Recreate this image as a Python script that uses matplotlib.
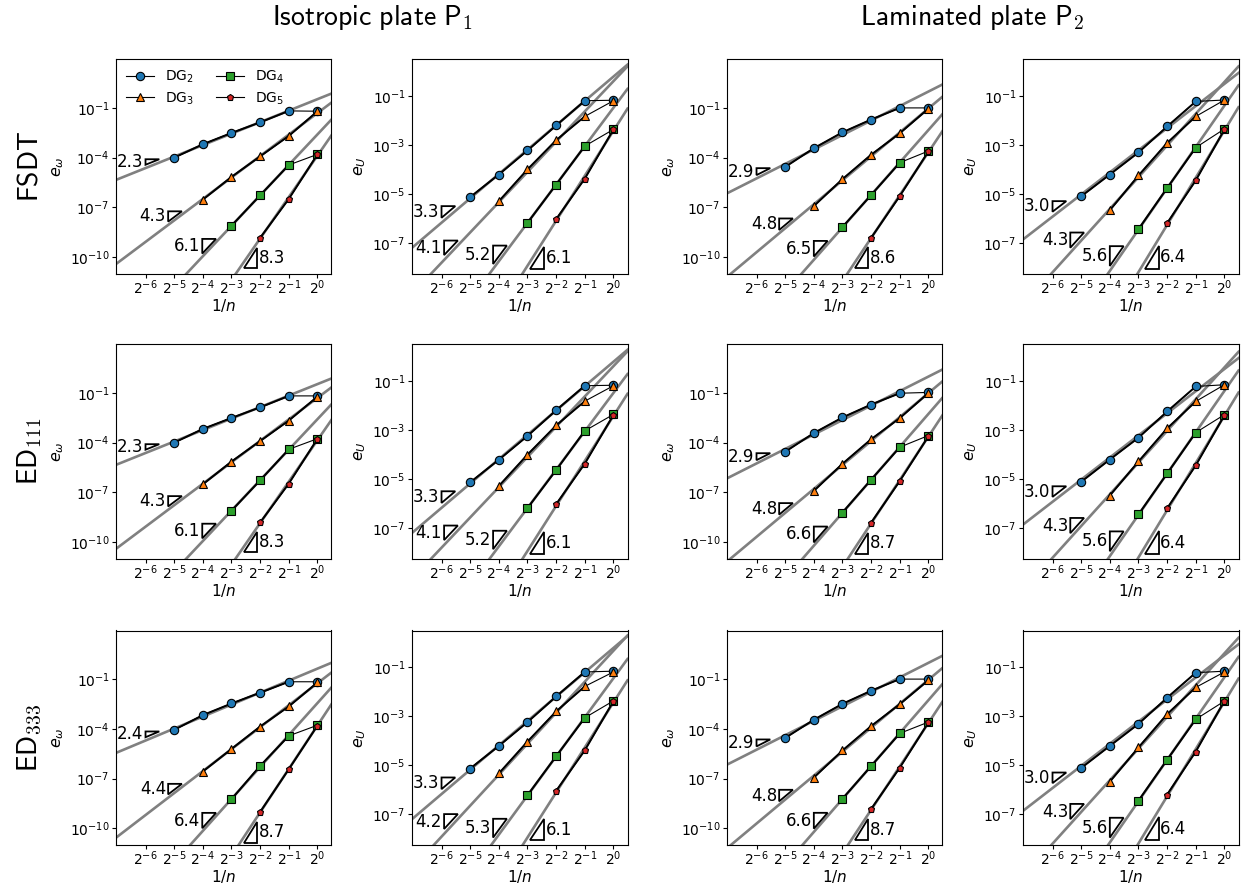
import numpy as np
import matplotlib
matplotlib.use("Agg")
import matplotlib.pyplot as plt
from matplotlib.patches import Polygon
from matplotlib.ticker import FixedLocator, NullLocator, LogFormatterSciNotation
import matplotlib.transforms as mtransforms

# ---------------- data ----------------
n_elements = [32, 16, 8, 4, 2, 1]          # mesh levels, x = 1/n
series_labels = ["DG$_2$", "DG$_3$", "DG$_4$", "DG$_5$"]
row_labels = [r"$\mathsf{FSDT}$", r"$\mathsf{ED}_{\mathsf{111}}$", r"$\mathsf{ED}_{\mathsf{333}}$"]
col_titles = [r"$\mathsf{Isotropic\ plate\ P}_{\mathsf{1}}$", r"$\mathsf{Laminated\ plate\ P}_{\mathsf{2}}$"]
ylabels = [r"$e_\omega$", r"$e_U$", r"$e_\omega$", r"$e_U$"]

# log10 of the errors, per panel, per series (x ascending: finest mesh first)
FSDT_P1_ew = [[-4.00, -3.19, -2.51, -1.87, -1.18, -1.20],
              [-6.53, -5.16, -3.92, -2.69, -1.20],
              [-8.10, -6.27, -4.44, -3.80],
              [-8.83, -6.49, -3.80]]
FSDT_P1_eU = [[-5.12, -4.20, -3.22, -2.20, -1.19, -1.17],
              [-5.29, -3.99, -2.80, -1.83, -1.19],
              [-6.17, -4.61, -3.04, -2.36],
              [-6.02, -4.37, -2.36]]
FSDT_P2_ew = [[-4.56, -3.43, -2.47, -1.70, -1.00, -1.00],
              [-6.92, -5.29, -3.82, -2.53, -1.04],
              [-8.18, -6.25, -4.30, -3.60],
              [-8.83, -6.31, -3.62]]
FSDT_P2_eU = [[-5.09, -4.20, -3.30, -2.24, -1.22, -1.16],
              [-5.66, -4.24, -2.91, -1.83, -1.16],
              [-6.43, -4.75, -3.10, -2.34],
              [-6.18, -4.44, -2.36]]
ED111_P1_ew = [[-4.00, -3.17, -2.51, -1.87, -1.18, -1.18],
               [-6.51, -5.14, -3.90, -2.67, -1.22],
               [-8.10, -6.27, -4.40, -3.76],
               [-8.81, -6.47, -3.76]]
ED111_P1_eU = [[-5.13, -4.21, -3.24, -2.19, -1.19, -1.17],
               [-5.28, -4.00, -2.81, -1.82, -1.19],
               [-6.18, -4.63, -3.03, -2.36],
               [-6.02, -4.37, -2.38]]
ED111_P2_ew = [[-4.55, -3.42, -2.48, -1.70, -1.02, -0.97],
               [-6.91, -5.27, -3.79, -2.52, -1.00],
               [-8.21, -6.23, -4.27, -3.57],
               [-8.82, -6.31, -3.61]]
ED111_P2_eU = [[-5.11, -4.20, -3.31, -2.24, -1.22, -1.15],
               [-5.67, -4.28, -2.93, -1.83, -1.15],
               [-6.44, -4.77, -3.10, -2.37],
               [-6.19, -4.44, -2.39]]
ED333_P1_ew = [[-4.06, -3.17, -2.47, -1.82, -1.16, -1.16],
               [-6.57, -5.21, -3.86, -2.65, -1.20],
               [-8.24, -6.23, -4.42, -3.78],
               [-9.01, -6.43, -3.80]]
ED333_P1_eU = [[-5.13, -4.21, -3.24, -2.19, -1.19, -1.16],
               [-5.33, -4.03, -2.80, -1.78, -1.19],
               [-6.22, -4.63, -3.06, -2.37],
               [-6.04, -4.39, -2.38]]
ED333_P2_ew = [[-4.55, -3.45, -2.49, -1.70, -1.00, -1.00],
               [-6.94, -5.30, -3.83, -2.51, -1.06],
               [-8.21, -6.24, -4.27, -3.59],
               [-8.83, -6.34, -3.61]]
ED333_P2_eU = [[-5.11, -4.21, -3.31, -2.24, -1.22, -1.16],
               [-5.67, -4.27, -2.91, -1.82, -1.19],
               [-6.44, -4.77, -3.12, -2.38],
               [-6.19, -4.44, -2.37]]

# convergence rates shown next to the slope triangles
FSDT_rates = [[2.3, 4.3, 6.1, 8.3], [3.3, 4.1, 5.2, 6.1], [2.9, 4.8, 6.5, 8.6], [3.0, 4.3, 5.6, 6.4]]
ED111_rates = [[2.3, 4.3, 6.1, 8.3], [3.3, 4.1, 5.2, 6.1], [2.9, 4.8, 6.6, 8.7], [3.0, 4.3, 5.6, 6.4]]
ED333_rates = [[2.4, 4.4, 6.4, 8.7], [3.3, 4.2, 5.3, 6.1], [2.9, 4.8, 6.6, 8.7], [3.0, 4.3, 5.6, 6.4]]

# number of coarse (pre-asymptotic) points excluded from the fit, per series
excluded_ew = [1, 0, 1, 0]
excluded_eU = [1, 1, 1, 0]

panels = [[FSDT_P1_ew, FSDT_P1_eU, FSDT_P2_ew, FSDT_P2_eU],
          [ED111_P1_ew, ED111_P1_eU, ED111_P2_ew, ED111_P2_eU],
          [ED333_P1_ew, ED333_P1_eU, ED333_P2_ew, ED333_P2_eU]]
rates = [FSDT_rates, ED111_rates, ED333_rates]

# ---------------- styling / layout ----------------
colors = ["#1f77b4", "#ff7f0e", "#2ca02c", "#d62728"]
markers = ["o", "^", "s", "p"]
msizes = [6.0, 6.0, 5.5, 5.0]
# triangle anchor (log2 of left x) per column
tri_x = [[-6.0, -5.21, -4.02, -2.58],
         [-6.0, -5.91, -4.20, -2.90],
         [-6.0, -5.21, -4.00, -2.58],
         [-6.0, -5.38, -4.00, -2.77]]

W, H = 1244, 888
fig = plt.figure(figsize=(W / 100, H / 100), dpi=100)

col_left = [116, 412, 727, 1023]
row_top = [59.3, 344.3, 630.5]
ax_w, ax_h = 215.5, 214.5

xlim = (2 ** -7.03, 2 ** 0.49)
ylims = [(10 ** -11.0, 10 ** 1.93), (10 ** -8.25, 10 ** 0.5)]
yticks = [[1e-1, 1e-4, 1e-7, 1e-10], [1e-1, 1e-3, 1e-5, 1e-7]]

x_all = 1.0 / np.array(n_elements, dtype=float)
tri_w = 0.48


def add_triangle(ax, xl2, s, a, kind, label):
    x0, x1 = 2 ** xl2, 2 ** (xl2 + tri_w)
    yl = lambda x: 10 ** (a + s * np.log10(x))
    if kind == "upper":
        f = 10 ** 0.2
        pts = [(x0, yl(x0) * f), (x1, yl(x1) * f), (x0, yl(x1) * f)]
        ym = np.sqrt(yl(x0) * yl(x1)) * f
        off = mtransforms.offset_copy(ax.transData, fig=fig, x=-1.5, y=0, units="points")
        ax.text(x0, ym, label, ha="right", va="center", fontsize=12, transform=off, zorder=6)
    else:
        f = 10 ** -0.3
        pts = [(x0, yl(x0) * f), (x1, yl(x0) * f), (x1, yl(x1) * f)]
        ym = np.sqrt(yl(x0) * yl(x1)) * f
        off = mtransforms.offset_copy(ax.transData, fig=fig, x=1.0, y=0, units="points")
        ax.text(x1, ym, label, ha="left", va="center", fontsize=12, transform=off, zorder=6)
    ax.add_patch(Polygon(pts, closed=True, facecolor="white", edgecolor="black", lw=1.3, zorder=5))


for r in range(3):
    for c in range(4):
        L = col_left[c] / W
        B = 1 - (row_top[r] + ax_h) / H
        ax = fig.add_axes([L, B, ax_w / W, ax_h / H])
        kind = c % 2
        ax.set_xscale("log", base=2)
        ax.set_yscale("log")
        ax.set_xlim(*xlim)
        ax.set_ylim(*ylims[kind])
        excl = excluded_ew if kind == 0 else excluded_eU
        handles = []
        for k in range(4):
            logy = np.array(panels[r][c][k])
            x = x_all[-len(logy):]
            y = 10 ** logy
            s = rates[r][c][k]
            nf = len(logy) - excl[k]
            a = np.mean(logy[:nf] - s * np.log10(x[:nf]))
            xl = np.logspace(np.log10(xlim[0]), np.log10(xlim[1]), 50)
            ax.plot(xl, 10 ** (a + s * np.log10(xl)), color="#808080", lw=1.9, zorder=1)
            ax.plot(x[:nf], y[:nf], color="black", lw=1.4, zorder=2)
            h, = ax.plot(x, y, color="black", lw=0.8, marker=markers[k], ms=msizes[k],
                         mfc=colors[k], mec="black", mew=0.8, zorder=3)
            handles.append(h)
            add_triangle(ax, tri_x[c][k], s, a, "upper" if k < 3 else "lower", f"{s:.1f}")
        ax.xaxis.set_major_locator(FixedLocator([2.0 ** e for e in range(-6, 1)]))
        ax.xaxis.set_major_formatter(LogFormatterSciNotation(base=2))
        ax.xaxis.set_minor_locator(NullLocator())
        ax.yaxis.set_major_locator(FixedLocator(yticks[kind]))
        ax.yaxis.set_major_formatter(LogFormatterSciNotation(base=10))
        ax.yaxis.set_minor_locator(NullLocator())
        ax.tick_params(labelsize=10, length=3)
        ax.tick_params(axis="x", pad=0.5)
        ax.tick_params(axis="y", pad=1.5)
        ax.set_xlabel(r"$1/n$", fontsize=11, labelpad=0)
        ax.set_ylabel(ylabels[c], fontsize=11.5, labelpad=3)
        if r == 0 and c == 0:
            ax.legend(handles, series_labels, loc="upper left", ncol=2, frameon=False,
                      fontsize=10, borderaxespad=0.3, handlelength=2.0, columnspacing=1.6,
                      labelspacing=0.35)
    fig.text(30 / W, 1 - (row_top[r] + ax_h / 2) / H, row_labels[r], rotation=90,
             ha="center", va="center", fontsize=20, math_fontfamily="cm")

fig.text(372 / W, 1 - 18 / H, col_titles[0], ha="center", va="center", fontsize=20, math_fontfamily="cm")
fig.text(972 / W, 1 - 18 / H, col_titles[1], ha="center", va="center", fontsize=20, math_fontfamily="cm")

fig.savefig("out.png", dpi=100)
